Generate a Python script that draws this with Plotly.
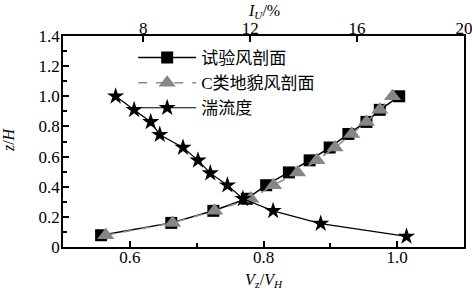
import plotly.graph_objects as go

# ---- data ----
z_levels = [0.078, 0.16, 0.24, 0.32, 0.41, 0.495, 0.575, 0.66, 0.75, 0.83, 0.91, 1.0]

test_profile_v = [0.557, 0.662, 0.725, 0.775, 0.804, 0.838, 0.869, 0.899, 0.927, 0.954, 0.974, 1.003]
c_terrain_v = [0.564, 0.664, 0.727, 0.781, 0.815, 0.851, 0.880, 0.907, 0.932, 0.954, 0.974, 0.993]
turb_z = [1.0, 0.91, 0.83, 0.745, 0.66, 0.575, 0.49, 0.41, 0.32, 0.24, 0.155, 0.07]
turb_I = [6.97, 7.66, 8.28, 8.62, 9.49, 10.05, 10.51, 11.15, 11.73, 12.86, 14.64, 17.85]

series_names = ["试验风剖面", "C类地貌风剖面", "湍流度"]
axis_titles = {
    "bottom": "<i>V</i><sub>z</sub>/<i>V</i><sub><i>H</i></sub>",
    "top": "<i>I</i><sub><i>U</i></sub>/%",
    "left": "<i>z</i>/<i>H</i>",
}

x_tickvals = [0.6, 0.8, 1.0]
x_ticktext = ["0.6", "0.8", "1.0"]
x_minor = [0.7, 0.9]
x2_tickvals = [8, 12, 16, 20]
x2_ticktext = ["8", "12", "16", "20"]
y_tickvals = [0, 0.2, 0.4, 0.6, 0.8, 1.0, 1.2, 1.4]
y_ticktext = ["0", "0.2", "0.4", "0.6", "0.8", "1.0", "1.2", "1.4"]
y_minor = [0.1, 0.3, 0.5, 0.7, 0.9, 1.1, 1.3]

SERIF = "Liberation Serif, Times New Roman, serif"
LEG_FONT = "Liberation Serif, Noto Sans CJK SC, serif"

fig = go.Figure()
fig.add_trace(go.Scatter(
    x=test_profile_v, y=z_levels, name=series_names[0], mode="lines+markers",
    line=dict(color="black", width=1.5),
    marker=dict(symbol="square", size=12, color="black"),
    legendgroup="a"))
fig.add_trace(go.Scatter(
    x=c_terrain_v, y=z_levels, name=series_names[1], mode="lines+markers",
    line=dict(color="#8c8c8c", width=1.5, dash="dash"),
    marker=dict(symbol="triangle-up", size=15, color="#868686"),
    legendgroup="b"))
fig.add_trace(go.Scatter(
    x=turb_I, y=turb_z, name=series_names[2], mode="lines+markers",
    xaxis="x2", yaxis="y",
    line=dict(color="black", width=1.2),
    marker=dict(symbol="star", size=13, color="black"),
    legendgroup="c"))

axis_common = dict(showgrid=False, zeroline=False, showline=True, automargin=False,
                   linecolor="black", linewidth=1.8, ticks="inside",
                   tickcolor="black", tickwidth=1.5, ticklen=6,
                   ticklabeloverflow="allow",
                   tickfont=dict(family=SERIF, size=17, color="black"))

title_font = dict(family=SERIF, size=16, color="black")

fig.update_layout(
    width=472, height=291,
    margin=dict(l=63, r=8, t=36, b=44),
    paper_bgcolor="white", plot_bgcolor="white",
    showlegend=True,
    legend=dict(x=0.175, y=0.981, xanchor="left", yanchor="top",
                bgcolor="rgba(0,0,0,0)", font=dict(family=LEG_FONT, size=17, color="black"),
                tracegroupgap=0, itemwidth=58),
    xaxis=dict(range=[0.5, 1.1], tickmode="array", tickvals=x_tickvals, ticktext=x_ticktext,
               ticklabelstandoff=-6,
               minor=dict(tickmode="array", tickvals=x_minor, ticks="inside", ticklen=4,
                          tickcolor="black", tickwidth=1.5),
               **axis_common),
    xaxis2=dict(range=[5, 20], overlaying="x", side="top", anchor="y",
                tickmode="array", tickvals=x2_tickvals, ticktext=x2_ticktext,
                ticklabelstandoff=-7,
                **axis_common),
    yaxis=dict(range=[0, 1.4], tickmode="array", tickvals=y_tickvals, ticktext=y_ticktext,
               mirror=True, ticklabelstandoff=-2,
               minor=dict(tickmode="array", tickvals=y_minor, ticks="inside", ticklen=4,
                          tickcolor="black", tickwidth=1.5),
               **axis_common),
    annotations=[
        dict(text=axis_titles["bottom"], xref="paper", yref="paper", x=0.5, y=-0.158,
             xanchor="center", yanchor="middle", showarrow=False, font=title_font),
        dict(text=axis_titles["top"], xref="paper", yref="paper", x=0.5, y=1.115,
             xanchor="center", yanchor="middle", showarrow=False, font=title_font),
        dict(text=axis_titles["left"], xref="paper", yref="paper", x=-0.137, y=0.507,
             xanchor="center", yanchor="middle", showarrow=False, textangle=-90,
             font=title_font),
    ],
)

fig.write_html("out.html")
